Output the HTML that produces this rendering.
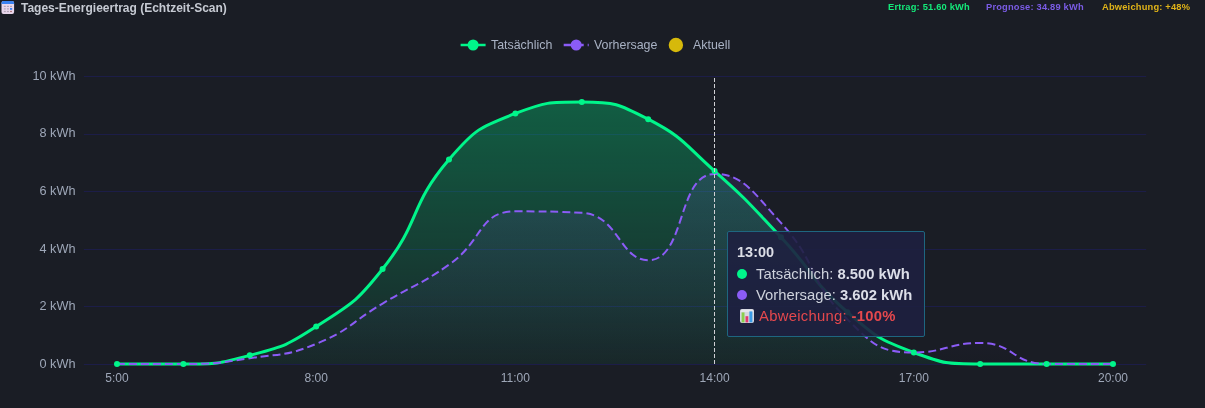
<!DOCTYPE html>
<html lang="de">
<head>
<meta charset="utf-8">
<title>Tages-Energieertrag</title>
<style>
html,body{margin:0;padding:0;}
body{will-change:transform;width:1205px;height:408px;overflow:hidden;background:#1a1d25;position:relative;font-family:"Liberation Sans",Arial,sans-serif;}
.chart{position:absolute;left:0;top:0;}
.yl{font-family:"Liberation Sans",Arial,sans-serif;font-size:12.7px;fill:#9ea7b8;text-anchor:end;}
.xl{font-family:"Liberation Sans",Arial,sans-serif;font-size:12px;fill:#9ea7b8;text-anchor:middle;}
.title{position:absolute;left:0;top:0;height:16px;}
.title svg{position:absolute;left:1px;top:1px;}
.title span{position:absolute;left:21px;top:0px;white-space:nowrap;font-weight:bold;font-size:12px;line-height:16px;color:#c6cad3;}
.stats{position:absolute;top:0;left:0;font-weight:bold;font-size:9.3px;letter-spacing:0.2px;line-height:12px;white-space:nowrap;}
.stats span{position:absolute;top:1px;}
.legend{position:absolute;left:0;top:0;font-size:12.4px;color:#a9b2c4;white-space:nowrap;}
.legend span{position:absolute;top:37px;line-height:16px;}
.tip{position:absolute;left:727px;top:231px;width:196px;height:104px;border:1px solid #1e6680;border-radius:2px;background:rgba(30,32,64,0.9);color:#ced2dc;font-size:14.8px;}
.tip .t{position:absolute;left:9px;top:11px;font-weight:bold;font-size:14.5px;line-height:18px;color:#dcdee6;}
.tip .r{position:absolute;left:9px;white-space:nowrap;line-height:18px;}
.tip .dot{display:inline-block;width:10px;height:10px;border-radius:5px;margin-right:9px;vertical-align:0px;}
.tip b{color:#dcdee8;}
.tip .red{color:#e5484d;}
</style>
</head>
<body>
<svg class="chart" width="1205" height="408" viewBox="0 0 1205 408">
<defs>
<linearGradient id="gg" x1="0" y1="101.92" x2="0" y2="364.00" gradientUnits="userSpaceOnUse"><stop offset="0" stop-color="#00f58a" stop-opacity="0.30"/><stop offset="1" stop-color="#00f58a" stop-opacity="0.05"/></linearGradient>
<linearGradient id="pg" x1="0" y1="173.92" x2="0" y2="364.00" gradientUnits="userSpaceOnUse"><stop offset="0" stop-color="#8b5cf6" stop-opacity="0.13"/><stop offset="1" stop-color="#8b5cf6" stop-opacity="0.0"/></linearGradient>
</defs>
<line x1="83.8" y1="364.5" x2="1146.2" y2="364.5" stroke="#1c1d48" stroke-width="1"/>
<line x1="83.8" y1="306.5" x2="1146.2" y2="306.5" stroke="#1c1d48" stroke-width="1"/>
<line x1="83.8" y1="249.5" x2="1146.2" y2="249.5" stroke="#1c1d48" stroke-width="1"/>
<line x1="83.8" y1="191.5" x2="1146.2" y2="191.5" stroke="#1c1d48" stroke-width="1"/>
<line x1="83.8" y1="134.5" x2="1146.2" y2="134.5" stroke="#1c1d48" stroke-width="1"/>
<line x1="83.8" y1="76.5" x2="1146.2" y2="76.5" stroke="#1c1d48" stroke-width="1"/>
<text x="75.5" y="367.7" class="yl">0 kWh</text>
<text x="75.5" y="310.1" class="yl">2 kWh</text>
<text x="75.5" y="252.5" class="yl">4 kWh</text>
<text x="75.5" y="194.9" class="yl">6 kWh</text>
<text x="75.5" y="137.3" class="yl">8 kWh</text>
<text x="75.5" y="79.7" class="yl">10 kWh</text>
<text x="117.0" y="381.6" class="xl">5:00</text>
<text x="316.2" y="381.6" class="xl">8:00</text>
<text x="515.4" y="381.6" class="xl">11:00</text>
<text x="714.6" y="381.6" class="xl">14:00</text>
<text x="913.8" y="381.6" class="xl">17:00</text>
<text x="1113.0" y="381.6" class="xl">20:00</text>
<path d="M117.00 364.00 C117.00 364.00 150.34 364.00 183.40 364.00 C216.74 364.00 217.89 364.00 249.80 355.36 C284.29 346.02 286.22 346.07 316.20 326.56 C352.62 302.87 355.57 302.96 382.60 268.96 C421.97 219.44 408.30 207.18 449.00 159.52 C474.70 129.42 479.19 127.26 515.40 113.44 C545.59 101.92 548.90 101.92 581.80 101.92 C615.30 101.92 618.39 103.69 648.20 119.20 C684.79 138.25 683.18 143.10 714.60 171.04 C749.58 202.14 748.88 203.14 781.00 237.28 C815.28 273.70 810.02 279.73 847.40 312.16 C876.42 337.33 878.24 339.20 913.80 352.48 C944.64 364.00 946.75 364.00 980.20 364.00 C1013.15 364.00 1013.40 364.00 1046.60 364.00 C1079.80 364.00 1113.00 364.00 1113.00 364.00 L1113.00 364.00 L117.00 364.00 Z" fill="url(#gg)"/>
<path d="M117.00 364.00 C117.00 364.00 150.26 364.00 183.40 364.00 C216.66 364.00 216.92 363.23 249.80 358.24 C283.32 353.15 285.22 356.61 316.20 343.84 C351.62 329.25 349.24 323.41 382.60 303.52 C415.64 283.81 417.48 286.52 449.00 264.64 C483.88 240.44 478.10 211.36 515.40 211.36 C544.50 211.36 552.01 211.36 581.80 212.80 C618.41 214.57 619.76 260.26 648.20 260.26 C686.16 260.26 676.82 173.92 714.60 173.92 C743.22 173.92 753.56 192.83 781.00 222.88 C819.96 265.55 806.75 279.69 847.40 319.36 C873.15 344.49 878.93 352.48 913.80 352.48 C945.33 352.48 947.62 342.98 980.20 342.98 C1014.02 342.98 1012.61 364.00 1046.60 364.00 C1079.01 364.00 1113.00 364.00 1113.00 364.00 L1113.00 364.00 L117.00 364.00 Z" fill="url(#pg)"/>
<path d="M117.00 364.00 C117.00 364.00 150.34 364.00 183.40 364.00 C216.74 364.00 217.89 364.00 249.80 355.36 C284.29 346.02 286.22 346.07 316.20 326.56 C352.62 302.87 355.57 302.96 382.60 268.96 C421.97 219.44 408.30 207.18 449.00 159.52 C474.70 129.42 479.19 127.26 515.40 113.44 C545.59 101.92 548.90 101.92 581.80 101.92 C615.30 101.92 618.39 103.69 648.20 119.20 C684.79 138.25 683.18 143.10 714.60 171.04 C749.58 202.14 748.88 203.14 781.00 237.28 C815.28 273.70 810.02 279.73 847.40 312.16 C876.42 337.33 878.24 339.20 913.80 352.48 C944.64 364.00 946.75 364.00 980.20 364.00 C1013.15 364.00 1013.40 364.00 1046.60 364.00 C1079.80 364.00 1113.00 364.00 1113.00 364.00" fill="none" stroke="#00f58a" stroke-width="3" stroke-linejoin="round"/>
<path d="M117.00 364.00 C117.00 364.00 150.26 364.00 183.40 364.00 C216.66 364.00 216.92 363.23 249.80 358.24 C283.32 353.15 285.22 356.61 316.20 343.84 C351.62 329.25 349.24 323.41 382.60 303.52 C415.64 283.81 417.48 286.52 449.00 264.64 C483.88 240.44 478.10 211.36 515.40 211.36 C544.50 211.36 552.01 211.36 581.80 212.80 C618.41 214.57 619.76 260.26 648.20 260.26 C686.16 260.26 676.82 173.92 714.60 173.92 C743.22 173.92 753.56 192.83 781.00 222.88 C819.96 265.55 806.75 279.69 847.40 319.36 C873.15 344.49 878.93 352.48 913.80 352.48 C945.33 352.48 947.62 342.98 980.20 342.98 C1014.02 342.98 1012.61 364.00 1046.60 364.00 C1079.01 364.00 1113.00 364.00 1113.00 364.00" fill="none" stroke="#8b5cf6" stroke-width="2" stroke-dasharray="8 4"/>
<circle cx="117.00" cy="364.00" r="3" fill="#00f58a"/>
<circle cx="183.40" cy="364.00" r="3" fill="#00f58a"/>
<circle cx="249.80" cy="355.36" r="3" fill="#00f58a"/>
<circle cx="316.20" cy="326.56" r="3" fill="#00f58a"/>
<circle cx="382.60" cy="268.96" r="3" fill="#00f58a"/>
<circle cx="449.00" cy="159.52" r="3" fill="#00f58a"/>
<circle cx="515.40" cy="113.44" r="3" fill="#00f58a"/>
<circle cx="581.80" cy="101.92" r="3" fill="#00f58a"/>
<circle cx="648.20" cy="119.20" r="3" fill="#00f58a"/>
<circle cx="714.60" cy="171.04" r="3" fill="#00f58a"/>
<circle cx="781.00" cy="237.28" r="3" fill="#00f58a"/>
<circle cx="847.40" cy="312.16" r="3" fill="#00f58a"/>
<circle cx="913.80" cy="352.48" r="3" fill="#00f58a"/>
<circle cx="980.20" cy="364.00" r="3" fill="#00f58a"/>
<circle cx="1046.60" cy="364.00" r="3" fill="#00f58a"/>
<circle cx="1113.00" cy="364.00" r="3" fill="#00f58a"/>
<line x1="714.5" y1="364" x2="714.5" y2="76" stroke="#cfcfd4" stroke-width="1" stroke-dasharray="4 2"/>
</svg>
<div class="title">
<svg width="14" height="14" viewBox="0 0 14 14">
<rect x="0.5" y="0" width="12.6" height="13" rx="2" fill="#e9d7ec"/>
<path d="M0.5 2 a2 2 0 0 1 2 -2 h8.6 a2 2 0 0 1 2 2 v1 h-12.6z" fill="#3b82f0"/>
<g fill="#b4a5b9">
<rect x="2.8" y="4.8" width="2" height="1.2"/><rect x="5.9" y="4.8" width="2" height="1.2"/><rect x="9" y="4.8" width="2" height="1.2"/>
<rect x="2.8" y="7.3" width="2" height="1.2"/><rect x="5.9" y="7.3" width="2" height="1.2"/>
<rect x="2.8" y="9.9" width="2" height="1.2"/><rect x="5.9" y="9.9" width="2" height="1.2"/>
</g>
<rect x="9" y="7" width="2.2" height="1.8" fill="#3b82f6"/>
<rect x="9" y="9.9" width="2" height="1.2" fill="#b07a80"/>
</svg>
<span>Tages-Energieertrag (Echtzeit-Scan)</span>
</div>
<div class="stats">
<span style="left:888px;color:#14ea7a">Ertrag: 51.60 kWh</span>
<span style="left:986px;color:#7b5ce6">Prognose: 34.89 kWh</span>
<span style="left:1102px;color:#e0b318">Abweichung: +48%</span>
</div>
<div class="legend">
<svg style="position:absolute;left:0;top:0" width="740" height="60">
<line x1="460.6" y1="45" x2="485.6" y2="45" stroke="#00f58a" stroke-width="2.5"/>
<circle cx="473.1" cy="45" r="5.5" fill="#00f58a"/>
<line x1="563.7" y1="45" x2="588.7" y2="45" stroke="#8b5cf6" stroke-width="2.5" stroke-dasharray="8 4"/>
<circle cx="576.2" cy="45" r="5.5" fill="#8b5cf6"/>
<circle cx="675.9" cy="45" r="7.2" fill="#d6b90b"/>
</svg>
<span style="left:491px">Tatsächlich</span>
<span style="left:594px">Vorhersage</span>
<span style="left:693px">Aktuell</span>
</div>
<div class="tip">
<div class="t">13:00</div>
<div class="r" style="top:33px"><span class="dot" style="background:#00f58a"></span>Tatsächlich: <b>8.500 kWh</b></div>
<div class="r" style="top:54px"><span class="dot" style="background:#8b5cf6"></span>Vorhersage: <b>3.602 kWh</b></div>
<div class="r" style="top:75px;letter-spacing:0.3px"><svg width="14" height="14" viewBox="0 0 14 14" style="vertical-align:-2px;margin-left:2.5px;margin-right:5.5px"><rect x="0" y="0" width="14" height="14" rx="2" fill="#d6d8e0"/><rect x="0.8" y="0.8" width="12.4" height="2.2" fill="#e6e7ec"/><rect x="1.6" y="3.4" width="2.9" height="10" fill="#8ccf4d"/><rect x="5.5" y="7.2" width="2.8" height="6.2" fill="#e23a6e"/><rect x="9.4" y="2.4" width="3" height="11" fill="#3b9be6"/></svg><span class="red">Abweichung: <b class="red">-100%</b></span></div>
</div>
</body>
</html>
